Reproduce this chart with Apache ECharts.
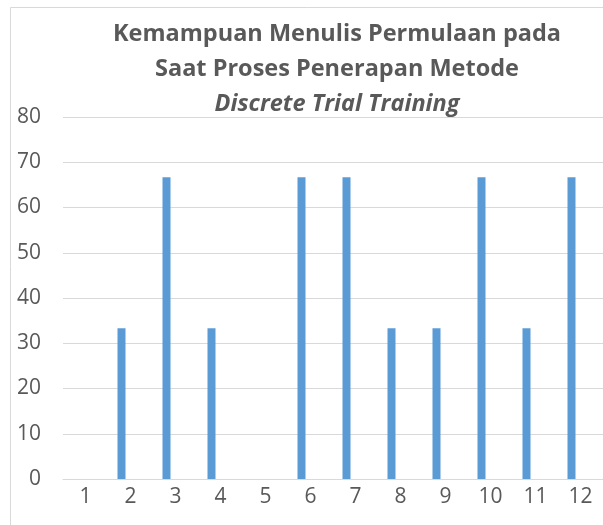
<!DOCTYPE html>
<html>
<head>
<meta charset="UTF-8">
<title>Kemampuan Menulis Permulaan</title>
<script src="https://cdn.jsdelivr.net/npm/echarts@6/dist/echarts.min.js"></script>
<style>
  html, body { margin: 0; padding: 0; background: #fff; }
  #chart { width: 603px; height: 525px; }
</style>
</head>
<body>
<div id="chart"></div>
<script>
// data
var categories = ['1', '2', '3', '4', '5', '6', '7', '8', '9', '10', '11', '12'];
var scores = [0, 33.33, 66.67, 33.33, 0, 66.67, 66.67, 33.33, 33.33, 66.67, 33.33, 66.67];
var yTicks = [0, 10, 20, 30, 40, 50, 60, 70, 80];

var font = '"Open Sans", sans-serif';
var grey = '#595959';

var myChart = echarts.init(document.getElementById('chart'));
var option = {
  animation: false,
  textStyle: { fontFamily: font },
  graphic: [{
    type: 'rect',
    shape: { x: 10.5, y: 7.5, width: 700, height: 600 },
    style: { fill: 'none', stroke: '#d9d9d9', lineWidth: 1 },
    silent: true
  }],
  title: {
    left: 332,
    top: 12,
    textAlign: 'center',
    text: '{a|Kemampuan Menulis Permulaan pada}\n{a|Saat Proses Penerapan Metode}\n{b|Discrete Trial Training}',
    textStyle: {
      rich: {
        a: { fontFamily: font, fontSize: 23.5, fontWeight: 'bold', color: grey, lineHeight: 35 },
        b: { fontFamily: font, fontSize: 23.5, fontWeight: 'bold', fontStyle: 'italic', color: grey, lineHeight: 35 }
      }
    }
  },
  grid: { left: 63, right: -6, top: 117, bottom: 46, containLabel: false },
  xAxis: {
    type: 'category',
    data: categories,
    axisLine: { lineStyle: { color: '#d9d9d9' } },
    axisTick: { show: false },
    axisLabel: { color: grey, fontSize: 21, margin: 8, fontFamily: font }
  },
  yAxis: {
    type: 'value',
    min: yTicks[0],
    max: yTicks[yTicks.length - 1],
    interval: 10,
    axisLine: { show: false },
    axisTick: { show: false },
    axisLabel: { color: grey, fontSize: 21, margin: 22, fontFamily: font },
    splitLine: { lineStyle: { color: '#d9d9d9', width: 1 } }
  },
  series: [
    {
      name: 'Skor',
      type: 'bar',
      data: scores,
      barWidth: 8,
      barGap: '125%',
      itemStyle: { color: '#5b9bd5' }
    },
    {
      // empty companion series, keeps the bars left of the category centre like the original
      name: 'kosong',
      type: 'bar',
      data: categories.map(function () { return '-'; }),
      barWidth: 8,
      itemStyle: { color: '#ed7d31' }
    }
  ]
};
myChart.setOption(option);
</script>
</body>
</html>
